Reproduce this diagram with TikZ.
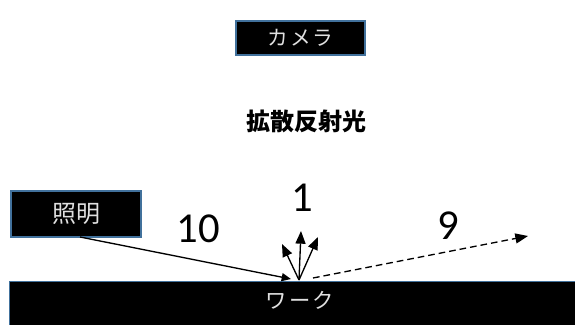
\documentclass[tikz,border=0pt]{standalone}
\usepackage{fontspec}
\setmainfont{Carlito}
\newfontfamily\jpfont{Noto Sans CJK JP}
\newfontfamily\jpspaced[LetterSpace=10]{Noto Sans CJK JP}
\usetikzlibrary{arrows.meta}
\definecolor{edgeblue}{HTML}{41719C}
\tikzset{
  darkbox/.style={draw=edgeblue, line width=0.8pt, fill=black, text=white!88!black, inner sep=0pt},
  numlabel/.style={font=\fontsize{32}{32}\selectfont, text=black},
  ray/.style={line width=1pt, -{Triangle[length=9.5pt,width=7.5pt]}},
}
\begin{document}
\begin{tikzpicture}[x=0.75pt,y=-0.75pt]
\useasboundingbox (0,0) rectangle (575,325);
% camera
\node[darkbox, minimum width=129*0.75pt, minimum height=34*0.75pt] (cam) at (300.5,38) {\jpspaced\fontsize{15.5}{15.5}\selectfont カメラ};
% title
\node (diff) at (306,121) {\jpfont\bfseries\fontsize{18}{18}\selectfont 拡散反射光};
% illumination
\node[darkbox, minimum width=130*0.75pt, minimum height=46*0.75pt] (light) at (76,214) {\jpfont\fontsize{18}{18}\selectfont 照明};
% work
\node[darkbox, minimum width=570*0.75pt, minimum height=46*0.75pt, anchor=north west] (work) at (9,280.5) {};
\node[text=white!88!black] (worklabel) at (300,300) {\jpspaced\fontsize{16}{16}\selectfont ワーク};
% points
\coordinate (src) at (80,237);
\coordinate (hit) at (291,279);
\coordinate (o) at (299,280);
\coordinate (tipL) at (282,244);
\coordinate (tipC) at (301,231);
\coordinate (tipR) at (318,237);
\coordinate (dstart) at (313,278);
\coordinate (dend) at (528,236);
% rays
\draw[line width=1pt, -{Triangle[length=7pt,width=6pt]}] (src) -- (hit);
\draw[ray] (o) -- (tipL);
\draw[ray] (o) -- (tipC);
\draw[ray] (o) -- (tipR);
\draw[ray, dashed, dash pattern=on 5pt off 3pt] (dstart) -- (dend);
% labels
\node[numlabel] (n10) at (198,229) {10};
\node[numlabel] (n1) at (302,198) {1};
\node[numlabel] (n9) at (448,226) {9};
\end{tikzpicture}
\end{document}
